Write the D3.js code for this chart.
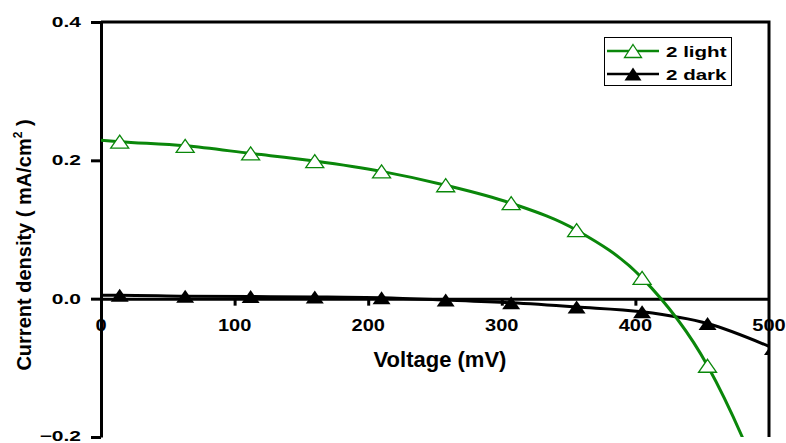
<!DOCTYPE html>
<html>
<head>
<meta charset="utf-8">
<script src="https://cdn.jsdelivr.net/npm/d3@7"></script>
<style>
  body { margin: 0; background: #fff; }
  text { font-family: "Liberation Sans", Arial, sans-serif; font-weight: bold; fill: #000; }
</style>
</head>
<body>
<svg id="chart" width="786" height="443"></svg>
<script>
// marker data (voltage in mV, current density in mA/cm2)
const lightV = [14, 63, 112, 160, 210, 258, 307, 356, 405, 454];
const lightJ = [0.227, 0.221, 0.210, 0.199, 0.184, 0.164, 0.138, 0.099, 0.030, -0.097];
const darkV = [14, 63, 112, 160, 210, 258, 307, 356, 405, 454, 503];
const darkJ = [0.005, 0.0035, 0.003, 0.0025, 0.0013, -0.002, -0.006, -0.012, -0.019, -0.036, -0.072];
// fitted curves
const lightFitV = [0, 14, 63, 112, 160, 210, 258, 307, 356, 405, 454, 480, 492];
const lightFitJ = [0.229, 0.227, 0.221, 0.210, 0.199, 0.184, 0.164, 0.138, 0.099, 0.030, -0.097, -0.200, -0.255];
const darkFitV = [0, 14, 63, 112, 160, 210, 258, 307, 356, 405, 454, 500];
const darkFitJ = [0.005, 0.005, 0.0035, 0.003, 0.0025, 0.0013, -0.002, -0.006, -0.012, -0.019, -0.036, -0.069];
// ticks
const xTicks = [0, 100, 200, 300, 400, 500];
const yTicks = [-0.2, 0.0, 0.2, 0.4];

const green = '#0a870a';
const svg = d3.select('#chart');
const x = d3.scaleLinear().domain([0, 500]).range([101, 769]);
const y = d3.scaleLinear().domain([-0.2, 0.4]).range([437, 22]);

svg.append('defs').append('clipPath').attr('id', 'plot')
  .append('rect').attr('x', x(0)).attr('y', y(0.4))
  .attr('width', x(500) - x(0)).attr('height', y(-0.2) - y(0.4));

// triangle marker path, centred on its box
const tri = (w, h) => `M0,${-h / 2}L${w / 2},${h / 2}L${-w / 2},${h / 2}Z`;

// frame: top and right lines
svg.append('path')
  .attr('d', `M${x(0)},${y(0.4)}H${x(500)}V${y(-0.2)}`)
  .attr('fill', 'none').attr('stroke', '#000').attr('stroke-width', 3);

// axes
const gy = svg.append('g').attr('transform', `translate(${x(0)},0)`)
  .call(d3.axisLeft(y).tickValues(yTicks).tickSize(10).tickSizeOuter(0).tickFormat(''));
const gx = svg.append('g').attr('transform', `translate(0,${y(0)})`)
  .call(d3.axisBottom(x).tickValues([100, 200, 300, 400]).tickSize(7).tickSizeOuter(0).tickFormat(''));
[gx, gy].forEach(g => {
  g.selectAll('path, line').attr('stroke', '#000').attr('stroke-width', 3);
});

// tick labels (stretched horizontally like the original)
svg.append('g').selectAll('text').data(yTicks).enter().append('text')
  .attr('transform', d => `translate(81,${Math.min(y(d) + 5, 441)}) scale(1.5,1)`)
  .attr('text-anchor', 'end').style('font-size', '14px')
  .text(d => d3.format('.1f')(d));
svg.append('g').selectAll('text').data(xTicks).enter().append('text')
  .attr('transform', d => `translate(${x(d)},331) scale(1.25,1)`)
  .attr('text-anchor', 'middle').style('font-size', '16px')
  .text(d => d);

// axis titles
svg.append('text').attr('x', 440).attr('y', 367).attr('text-anchor', 'middle')
  .style('font-size', '22px').text('Voltage (mV)');
const yt = svg.append('text').attr('transform', 'translate(31,245) rotate(-90)')
  .attr('text-anchor', 'middle').style('font-size', '20px');
yt.append('tspan').text('Current density ( mA/cm');
yt.append('tspan').attr('dy', -9).style('font-size', '12px').text('2');
yt.append('tspan').attr('dy', 9).text(' )');

// curves
const plot = svg.append('g').attr('clip-path', 'url(#plot)');
const line = d3.line().x(d => x(d[0])).y(d => y(d[1])).curve(d3.curveMonotoneX);

plot.append('path').datum(d3.zip(darkFitV, darkFitJ))
  .attr('d', line).attr('fill', 'none').attr('stroke', '#000').attr('stroke-width', 3);
plot.selectAll('.dark').data(d3.zip(darkV, darkJ)).enter().append('path')
  .attr('class', 'dark')
  .attr('transform', d => `translate(${x(d[0])},${y(d[1])})`)
  .attr('d', tri(18, 13)).attr('fill', '#000');

plot.append('path').datum(d3.zip(lightFitV, lightFitJ))
  .attr('d', line).attr('fill', 'none').attr('stroke', green).attr('stroke-width', 3);
plot.selectAll('.light').data(d3.zip(lightV, lightJ)).enter().append('path')
  .attr('class', 'light')
  .attr('transform', d => `translate(${x(d[0])},${y(d[1])})`)
  .attr('d', tri(18, 13)).attr('fill', '#fff').attr('stroke', green).attr('stroke-width', 1.3);

// legend
const lg = svg.append('g');
lg.append('rect').attr('x', 604.5).attr('y', 37.5).attr('width', 127).attr('height', 48)
  .attr('fill', '#fff').attr('stroke', '#000').attr('stroke-width', 1);
const items = [
  { label: '2 light', color: green, open: true, yy: 51, base: 57 },
  { label: '2 dark', color: '#000', open: false, yy: 74, base: 80 }
];
items.forEach(it => {
  lg.append('line').attr('x1', 607).attr('x2', 659).attr('y1', it.yy).attr('y2', it.yy)
    .attr('stroke', it.color).attr('stroke-width', 2.5);
  lg.append('path').attr('transform', `translate(633,${it.yy})`).attr('d', tri(17, 13))
    .attr('fill', it.open ? '#fff' : '#000').attr('stroke', it.color).attr('stroke-width', it.open ? 1.3 : 0);
  lg.append('text').attr('transform', `translate(666,${it.base}) scale(1.37,1)`)
    .style('font-size', '15px').text(it.label);
});
</script>
</body>
</html>
